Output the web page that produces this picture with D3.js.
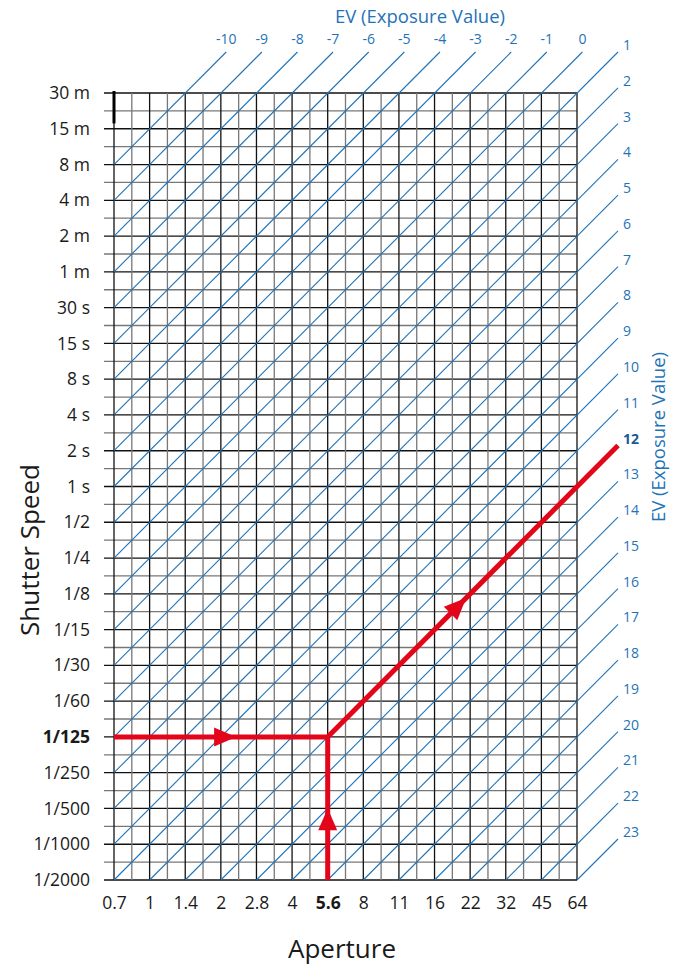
<!DOCTYPE html>
<html>
<head>
<meta charset="utf-8">
<script src="https://cdn.jsdelivr.net/npm/d3@7"></script>
<style>
  body { margin: 0; background: #fff; }
  svg { display: block; font-family: "Open Sans", Lato, sans-serif; }
</style>
</head>
<body>
<div id="chart"></div>
<script>
// aperture stops (f-numbers), left to right
var apertures = ["0.7", "1", "1.4", "2", "2.8", "4", "5.6", "8", "11", "16", "22", "32", "45", "64"];
// shutter speeds, top to bottom
var shutters = ["30 m", "15 m", "8 m", "4 m", "2 m", "1 m", "30 s", "15 s", "8 s", "4 s", "2 s", "1 s",
  "1/2", "1/4", "1/8", "1/15", "1/30", "1/60", "1/125", "1/250", "1/500", "1/1000", "1/2000"];
// EV lines labelled along the top and along the right side
var evTop = [-10, -9, -8, -7, -6, -5, -4, -3, -2, -1, 0];
var evRight = [1, 2, 3, 4, 5, 6, 7, 8, 9, 10, 11, 12, 13, 14, 15, 16, 17, 18, 19, 20, 21, 22, 23];
// worked example
var pickAperture = "5.6";
var pickShutter = "1/125";

var width = 682, height = 965;
var blue = "#1f73b7", red = "#e3061b", ink = "#1a1a1a";

var svg = d3.select("#chart").append("svg")
  .attr("width", width)
  .attr("height", height);

var nA = apertures.length - 1, nS = shutters.length - 1;
var x = d3.scaleLinear().domain([0, nA]).range([114, 577]);
var y = d3.scaleLinear().domain([0, nS]).range([93, 880]);

// EV = stops from f/1 + stops from 1 s
var a0 = apertures.indexOf("1"), s0 = shutters.indexOf("1 s");
function evOf(i, j) { return (i - a0) + (j - s0); }
var sumOf = function (ev) { return ev + a0 + s0; };

// grid, half-stop steps
var g = svg.append("g");
d3.range(0, nS + 0.5, 0.5).forEach(function (j) {
  var major = j % 1 === 0;
  g.append("line")
    .attr("x1", 104).attr("x2", x(nA))
    .attr("y1", y(j)).attr("y2", y(j))
    .attr("stroke", major ? "#111" : "#777")
    .attr("stroke-width", 1.3);
});
d3.range(0, nA + 0.5, 0.5).forEach(function (i) {
  var major = i % 1 === 0;
  g.append("line")
    .attr("x1", x(i)).attr("x2", x(i))
    .attr("y1", y(0)).attr("y2", y(nS))
    .attr("stroke", major ? "#111" : "#777")
    .attr("stroke-width", 1.3);
});

// little black mark top-left
svg.append("line")
  .attr("x1", x(0)).attr("x2", x(0))
  .attr("y1", y(0) - 2).attr("y2", y(0.85))
  .attr("stroke", "#000").attr("stroke-width", 3);

// EV diagonals
var ext = 41;
var evAll = evTop.concat(evRight);
function evSegment(ev) {
  var s = sumOf(ev);
  var p0 = s <= nS ? [0, s] : [s - nS, nS];
  var p1 = s <= nA ? [s, 0] : [nA, s - nA];
  return [[x(p0[0]), y(p0[1])], [x(p1[0]) + ext, y(p1[1]) - ext]];
}
svg.append("g").selectAll("line")
  .data(evAll)
  .enter().append("line")
  .attr("x1", function (d) { return evSegment(d)[0][0]; })
  .attr("y1", function (d) { return evSegment(d)[0][1]; })
  .attr("x2", function (d) { return evSegment(d)[1][0]; })
  .attr("y2", function (d) { return evSegment(d)[1][1]; })
  .attr("stroke", blue)
  .attr("stroke-width", 1.1);

var pickI = apertures.indexOf(pickAperture);
var pickJ = shutters.indexOf(pickShutter);
var pickEV = evOf(pickI, pickJ);

// EV labels
svg.append("g").selectAll("text")
  .data(evTop)
  .enter().append("text")
  .attr("x", function (d) { return evSegment(d)[1][0]; })
  .attr("y", function (d) { return evSegment(d)[1][1] - 8; })
  .attr("text-anchor", "middle")
  .attr("font-size", 14)
  .attr("fill", blue)
  .text(function (d) { return d; });

svg.append("g").selectAll("text")
  .data(evRight)
  .enter().append("text")
  .attr("x", function (d) { return evSegment(d)[1][0] + 5; })
  .attr("y", function (d) { return evSegment(d)[1][1] - 2; })
  .attr("font-size", 14)
  .attr("font-weight", function (d) { return d === pickEV ? "bold" : null; })
  .attr("fill", function (d) { return d === pickEV ? "#1a5a96" : blue; })
  .text(function (d) { return d; });

svg.append("text")
  .attr("x", 420).attr("y", 23)
  .attr("text-anchor", "middle")
  .attr("font-size", 18.5)
  .attr("fill", blue)
  .text("EV (Exposure Value)");

svg.append("text")
  .attr("transform", "translate(665,437) rotate(-90)")
  .attr("text-anchor", "middle")
  .attr("font-size", 18.5)
  .attr("fill", blue)
  .text("EV (Exposure Value)");

// axis labels
var yAxis = d3.axisLeft(y)
  .tickValues(d3.range(shutters.length))
  .tickFormat(function (d) { return shutters[d]; })
  .tickSize(0).tickPadding(0);
var ya = svg.append("g").attr("transform", "translate(90,0)").call(yAxis);
ya.select(".domain").remove();
ya.selectAll("text")
  .attr("font-family", "'Open Sans', sans-serif")
  .attr("font-size", 17.5)
  .attr("fill", ink)
  .attr("font-weight", function (d) { return shutters[d] === pickShutter ? "bold" : null; });

var xAxis = d3.axisBottom(x)
  .tickValues(d3.range(apertures.length))
  .tickFormat(function (d) { return apertures[d]; })
  .tickSize(0).tickPadding(0);
var xa = svg.append("g").attr("transform", "translate(0,897)").call(xAxis);
xa.select(".domain").remove();
xa.selectAll("text")
  .attr("font-family", "'Open Sans', sans-serif")
  .attr("font-size", 17.5)
  .attr("fill", ink)
  .attr("font-weight", function (d) { return apertures[d] === pickAperture ? "bold" : null; });

svg.append("text")
  .attr("x", 342).attr("y", 958)
  .attr("text-anchor", "middle")
  .attr("font-size", 26)
  .attr("fill", ink)
  .text("Aperture");

svg.append("text")
  .attr("transform", "translate(39,550) rotate(-90)")
  .attr("text-anchor", "middle")
  .attr("font-size", 26)
  .attr("fill", ink)
  .text("Shutter Speed");

// worked example path
var px = x(pickI), py = y(pickJ);
var endPt = evSegment(pickEV)[1];
var path = svg.append("g")
  .attr("stroke", red).attr("stroke-width", 5).attr("fill", "none");
path.append("line").attr("x1", x(0)).attr("y1", py).attr("x2", px).attr("y2", py);
path.append("line").attr("x1", px).attr("y1", y(nS)).attr("x2", px).attr("y2", py);
path.append("line").attr("x1", px).attr("y1", py).attr("x2", endPt[0]).attr("y2", endPt[1]);

function arrow(cx, cy, angle) {
  svg.append("path")
    .attr("d", "M11,0 L-11,-9.5 L-11,9.5 Z")
    .attr("transform", "translate(" + cx + "," + cy + ") rotate(" + angle + ")")
    .attr("fill", red);
}
arrow(x(pickI * 0.52), py, 0);
arrow(px, y(pickJ + 2.3), -90);
arrow(px + (endPt[0] - px) * 0.45, py + (endPt[1] - py) * 0.45, -45);
</script>
</body>
</html>
